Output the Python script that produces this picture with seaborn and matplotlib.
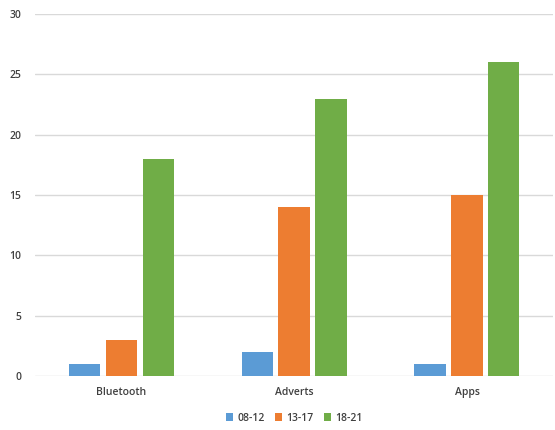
import matplotlib
matplotlib.use("Agg")
import matplotlib.pyplot as plt
import seaborn as sns
import pandas as pd

categories = ["Bluetooth", "Adverts", "Apps"]
groups = ["08-12", "13-17", "18-21"]
v_08_12 = [1, 2, 1]
v_13_17 = [3, 14, 15]
v_18_21 = [18, 23, 26]
colors = ["#5B9BD5", "#ED7D31", "#70AD47"]

rows = []
for g, vals in zip(groups, [v_08_12, v_13_17, v_18_21]):
    for c, v in zip(categories, vals):
        rows.append({"cat": c, "grp": g, "val": v})
df = pd.DataFrame(rows)

sns.set_style("white")
plt.rcParams["font.family"] = ["Open Sans", "DejaVu Sans"]

fig = plt.figure(figsize=(5.55, 4.3), dpi=100)
ax = fig.add_axes([0.063, 0.1256, 0.934, 0.8414])
sns.barplot(data=df, x="cat", y="val", hue="grp", palette=colors,
            width=0.64, gap=0.15, ax=ax, legend=True, saturation=1,
            linewidth=0, edgecolor="none")

ax.set_ylim(0, 30)
ax.set_yticks(range(0, 31, 5))
ax.set_xlim(-0.5, 2.5)
ax.yaxis.grid(True, color="#D9D9D9", linewidth=1)
ax.set_axisbelow(True)
for s in ax.spines.values():
    s.set_visible(False)
ax.tick_params(axis="both", length=0, labelsize=7.5, labelcolor="#404040")
ax.tick_params(axis="y", pad=10)
ax.tick_params(axis="x", pad=8)
for lbl in ax.get_xticklabels() + ax.get_yticklabels():
    lbl.set_fontweight("semibold")
ax.set_xlabel("")
ax.set_ylabel("")

leg = ax.legend(loc="upper center", bbox_to_anchor=(0.5, -0.075), ncol=3,
                frameon=False, fontsize=7.5, handlelength=0.7, handleheight=0.7,
                columnspacing=1.0, handletextpad=0.4)
for t in leg.get_texts():
    t.set_color("#404040")
    t.set_fontweight("semibold")

fig.savefig("out.png", dpi=100)
